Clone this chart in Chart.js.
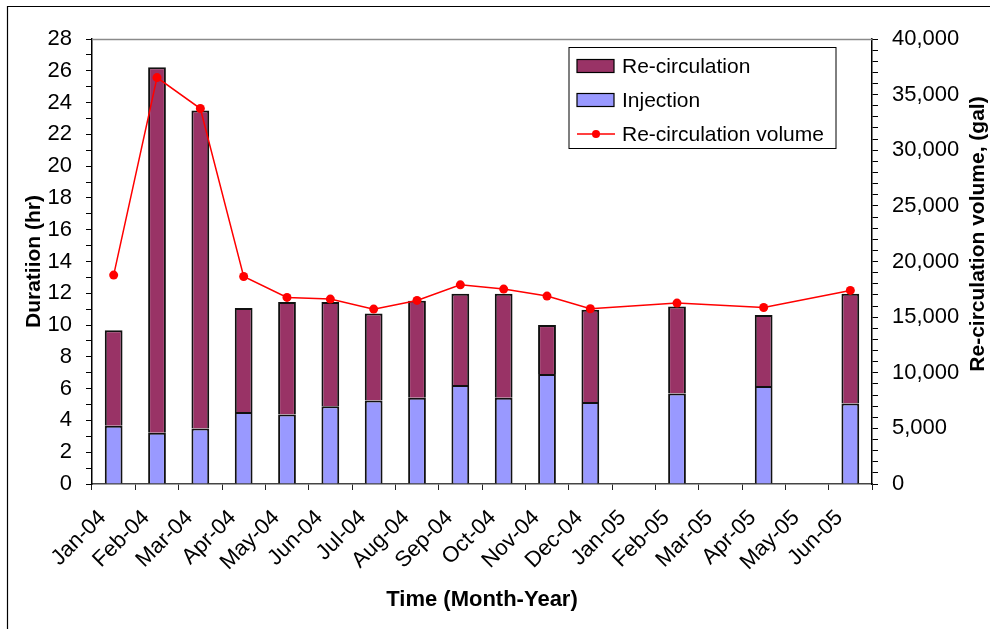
<!DOCTYPE html>
<html>
<head>
<meta charset="utf-8">
<title>Duration and re-circulation volume</title>
<script src="https://cdn.jsdelivr.net/npm/chart.js@4.4.1/dist/chart.umd.min.js"></script>
<style>
  html, body { margin: 0; padding: 0; background: #fff; }
  canvas { display: block; }
</style>
</head>
<body>
<canvas id="chart" width="990" height="629"></canvas>
<script>
// Data
const months = ['Jan-04', 'Feb-04', 'Mar-04', 'Apr-04', 'May-04', 'Jun-04', 'Jul-04', 'Aug-04', 'Sep-04',
  'Oct-04', 'Nov-04', 'Dec-04', 'Jan-05', 'Feb-05', 'Mar-05', 'Apr-05', 'May-05', 'Jun-05'];
const injection = [3.67, 3.23, 3.5, 4.53, 4.38, 4.9, 5.26, 5.43, 6.23, 5.43, 6.92, 5.16, null, 5.7, null, 6.16, null, 5.07];
const recirculation = [6.0, 23.0, 20.0, 6.54, 7.07, 6.55, 5.47, 6.1, 5.74, 6.54, 3.08, 5.8, null, 5.47, null, 4.47, null, 6.9];
const recircVolume = [18780, 36530, 33750, 18650, 16770, 16620, 15720, 16500, 17900, 17520, 16890, 15750,
  null, 16260, null, 15870, null, 17400];

// axis ranges / labels
const durationMax = 28;
const durationLabelStep = 2;
const volumeMax = 40000;
const volumeLabelStep = 5000;

const FONT = "'Liberation Sans', Arial, sans-serif";
Chart.defaults.font.family = FONT;
Chart.defaults.font.size = 21;
Chart.defaults.color = '#000';

const legendItems = [
  { label: 'Re-circulation', type: 'box', color: '#993366' },
  { label: 'Injection', type: 'box', color: '#9999FF' },
  { label: 'Re-circulation volume', type: 'line', color: '#FF0000' }
];

// frame, plot border, right axis title and legend box
const decor = {
  id: 'decor',
  afterDraw(chart) {
    const ctx = chart.ctx;
    const area = chart.chartArea;
    ctx.save();

    // plot area top border
    ctx.strokeStyle = '#8a8a8a';
    ctx.lineWidth = 1.5;
    ctx.beginPath();
    ctx.moveTo(area.left, area.top + 0.5);
    ctx.lineTo(area.right, area.top + 0.5);
    ctx.stroke();

    // outer frame (left + top edges visible)
    ctx.strokeStyle = '#000';
    ctx.lineWidth = 1.2;
    ctx.beginPath();
    ctx.moveTo(7.5, chart.height);
    ctx.lineTo(7.5, 6.5);
    ctx.lineTo(chart.width, 6.5);
    ctx.stroke();

    // right axis title, reading bottom to top
    ctx.fillStyle = '#000';
    ctx.font = 'bold 21px ' + FONT;
    ctx.textAlign = 'center';
    ctx.textBaseline = 'middle';
    ctx.translate(978, 234);
    ctx.rotate(-Math.PI / 2);
    ctx.fillText('Re-circulation volume, (gal)', 0, 0);
    ctx.restore();

    // legend
    ctx.save();
    const lx = area.right - 303, ly = 47.5, lw = 267, lh = 101;
    ctx.fillStyle = '#fff';
    ctx.fillRect(lx, ly, lw, lh);
    ctx.strokeStyle = '#000';
    ctx.lineWidth = 1;
    ctx.strokeRect(lx, ly, lw, lh);
    ctx.font = '21px ' + FONT;
    ctx.textBaseline = 'middle';
    ctx.textAlign = 'left';
    legendItems.forEach((it, i) => {
      const cy = ly + 18.5 + i * 34;
      if (it.type === 'box') {
        ctx.fillStyle = it.color;
        ctx.fillRect(lx + 8, cy - 6.5, 37, 13);
        ctx.strokeStyle = '#000';
        ctx.lineWidth = 1.2;
        ctx.strokeRect(lx + 8, cy - 6.5, 37, 13);
      } else {
        ctx.strokeStyle = it.color;
        ctx.lineWidth = 1.5;
        ctx.beginPath();
        ctx.moveTo(lx + 8, cy);
        ctx.lineTo(lx + 46, cy);
        ctx.stroke();
        ctx.fillStyle = it.color;
        ctx.beginPath();
        ctx.arc(lx + 27, cy, 4, 0, Math.PI * 2);
        ctx.fill();
      }
      ctx.fillStyle = '#000';
      ctx.fillText(it.label, lx + 53, cy + 1);
    });
    ctx.restore();
  }
};

const ctx = document.getElementById('chart');
new Chart(ctx, {
  data: {
    labels: months,
    datasets: [
      {
        type: 'line',
        label: 'Re-circulation volume',
        data: recircVolume,
        yAxisID: 'y2',
        borderColor: '#FF0000',
        backgroundColor: '#FF0000',
        borderWidth: 1.5,
        pointRadius: 4.5,
        pointBorderWidth: 0,
        pointBackgroundColor: '#FF0000',
        tension: 0,
        spanGaps: true,
        order: 0
      },
      {
        type: 'bar',
        label: 'Injection',
        data: injection,
        yAxisID: 'y',
        stack: 'dur',
        backgroundColor: '#9999FF',
        borderColor: '#111',
        borderWidth: 2,
        barPercentage: 0.41,
        categoryPercentage: 1,
        order: 1
      },
      {
        type: 'bar',
        label: 'Re-circulation',
        data: recirculation,
        yAxisID: 'y',
        stack: 'dur',
        backgroundColor: '#993366',
        borderColor: '#111',
        borderWidth: 2,
        barPercentage: 0.41,
        categoryPercentage: 1,
        order: 1
      }
    ]
  },
  options: {
    responsive: false,
    animation: false,
    layout: { padding: { left: 8, top: 39, right: 0, bottom: 0 } },
    plugins: {
      legend: { display: false },
      tooltip: { enabled: false }
    },
    scales: {
      x: {
        stacked: true,
        afterFit: s => { s.height = 145; },
        border: { color: '#444', width: 1.5 },
        grid: { drawOnChartArea: false, tickLength: 6, color: '#222', offset: true },
        ticks: {
          autoSkip: false,
          minRotation: 45,
          maxRotation: 45,
          padding: 15,
          labelOffset: -11,
          font: { size: 22 }
        },
        title: {
          display: true,
          text: 'Time (Month-Year)',
          font: { size: 22, weight: 'bold' },
          padding: { top: 0, bottom: 16 }
        }
      },
      y: {
        stacked: true,
        position: 'left',
        min: 0,
        max: durationMax,
        afterFit: s => { s.width = 84; },
        border: { color: '#000', width: 1.5 },
        grid: { drawOnChartArea: false, tickLength: 6, color: '#000' },
        ticks: {
          stepSize: 1,
          autoSkip: false,
          padding: 14,
          font: { size: 22 },
          callback: v => (v % durationLabelStep === 0 ? v : '')
        },
        title: {
          display: true,
          text: 'Duratiion (hr)',
          font: { size: 21, weight: 'bold' },
          padding: { top: 14, bottom: 0 }
        }
      },
      y2: {
        position: 'right',
        min: 0,
        max: volumeMax,
        afterFit: s => { s.width = 118; },
        border: { color: '#000', width: 1.5 },
        grid: { drawOnChartArea: false, tickLength: 6, color: '#000' },
        ticks: {
          stepSize: 1000,
          autoSkip: false,
          padding: 14,
          font: { size: 22 },
          callback: v => (v % volumeLabelStep === 0 ? v.toLocaleString('en-US') : '')
        }
      }
    }
  },
  plugins: [decor]
});
</script>
</body>
</html>
